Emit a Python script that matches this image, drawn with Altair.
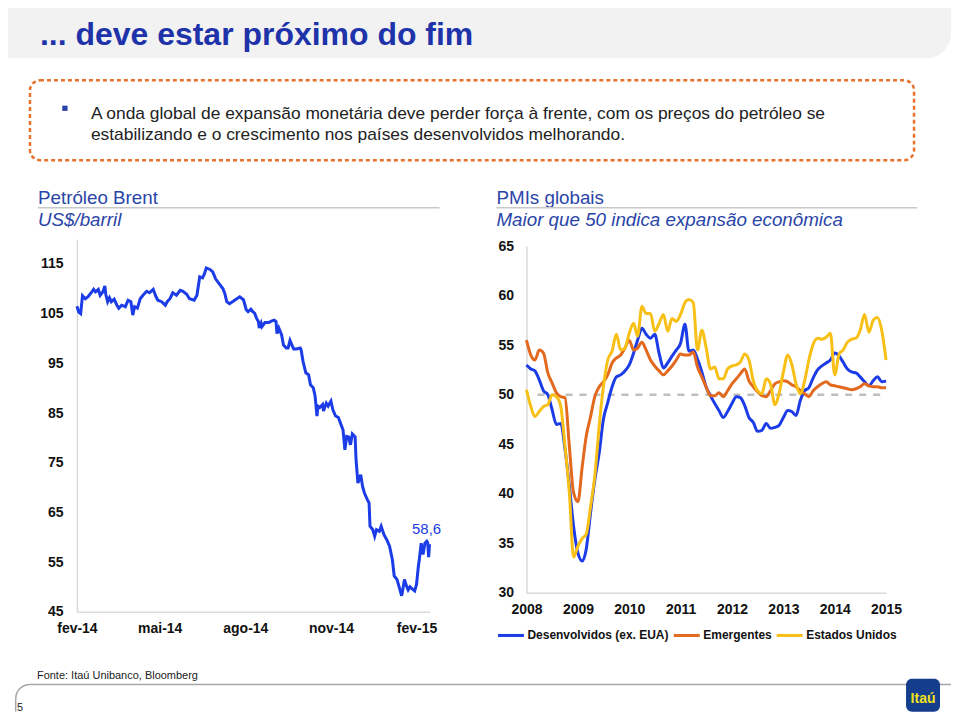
import altair as alt
import pandas as pd

FONT = "Liberation Sans"
BLUE = "#1b3ce6"
ORANGE = "#e2691e"
YELLOW = "#f8c016"
TITLE_BLUE = "#1e32aa"
SUB_BLUE = "#2a45a8"

# ---------------- Brent (days since 2014-02-01, US$/barril) ----------------
brent_day = [0, 2, 4, 6, 9, 12, 16, 18, 20, 23, 25, 28, 30, 31, 33, 35, 37, 40, 43, 45,
             48, 52, 55, 58, 60, 62, 65, 68, 71, 75, 78, 82, 85, 87, 91, 95, 97, 100, 103, 107,
             111, 114, 118, 121, 126, 129, 132, 135, 137, 139, 143, 146, 149, 153, 157, 159, 161, 164, 168, 171,
             175, 179, 182, 184, 187, 189, 191, 193, 195, 196, 198, 199, 202, 206, 209, 212, 214, 215, 217, 220,
             222, 225, 227, 229, 231, 233, 236, 240, 241, 243, 246, 249, 251, 254, 256, 258, 259, 261, 264, 265,
             268, 270, 273, 275, 278, 281,
             282, 286, 288, 290, 292, 294, 296, 299, 300, 302, 305, 307, 309, 312, 314, 315, 318, 320, 322, 325,
             327, 330, 333, 336, 339, 341, 344, 346, 349, 350, 352, 354, 356, 358, 361, 363, 365, 367, 368, 370,
             372, 374, 376, 377, 378, 379]
brent_value = [106.5, 105.3, 105.0, 108.6, 108.0, 108.4, 109.4, 109.9, 109.4, 109.9, 108.7, 109.4, 110.6, 108.9, 107.4, 108.2, 107.4, 107.9, 106.7, 106.1,
               106.7, 106.4, 107.7, 107.4, 104.7, 106.4, 106.1, 108.0, 108.7, 109.5, 109.2, 109.9, 108.4, 107.7, 107.4, 106.7, 107.4, 108.0, 109.2, 108.7,
               109.7, 109.5, 108.9, 108.0, 107.7, 108.7, 112.4, 112.2, 113.0, 114.2, 113.9, 113.4, 112.0, 111.0, 110.0, 109.0, 107.4, 107.0, 107.5, 107.9,
               108.4, 107.8, 105.8, 105.4, 105.9, 105.4, 105.1, 104.1, 103.4, 102.1, 103.1, 102.4, 103.2, 103.2, 103.5, 103.7, 103.4, 101.0, 102.1, 100.7,
               98.7, 98.1, 98.1, 99.6, 98.7, 97.9, 97.9, 98.1, 97.7, 95.4, 93.1, 92.7, 90.7, 90.1, 88.4, 84.4, 86.4, 86.1, 86.7, 85.4,
               87.0, 86.4, 87.4, 85.7, 84.4, 84.1,
               83.6, 81.6, 77.6, 80.3, 80.2, 78.6, 80.8, 80.2, 75.6, 70.9, 72.6, 70.2, 68.9, 67.6, 66.9, 62.2, 61.5, 60.2, 61.5, 61.2,
               62.2, 60.5, 59.5, 58.2, 55.5, 52.2, 51.5, 50.2, 48.2, 49.2, 51.5, 50.3, 49.4, 50.0, 49.5, 49.2, 50.5, 54.2, 55.5, 58.8,
               56.5, 58.8, 59.2, 58.9, 56.0, 58.6]
brent_ticks = ["2014-02-01", "2014-05-01", "2014-08-01", "2014-11-01", "2015-02-01"]
brent_yticks = [45, 55, 65, 75, 85, 95, 105, 115]
brent_last_label = "58,6"

# ---------------- PMIs (monthly, Jan-2008 .. Jan-2015) ----------------
pmi_desenvolvidos = [53.0, 52.6, 52.4, 51.5, 50.4, 50.0, 48.5, 47.0, 47.1, 44.5, 40.8, 36.7, 34.0, 33.2, 34.4, 38.1, 41.4, 44.1, 47.5, 49.2,
                     50.8, 51.8, 52.0, 52.4, 53.0, 54.2, 55.5, 56.7, 56.1, 55.7, 56.1, 54.2, 52.7, 53.2, 53.9, 54.5, 55.2, 57.1, 54.4, 54.5,
                     53.6, 52.3, 50.8, 49.9, 49.1, 48.4, 47.7, 48.3, 49.1, 49.8, 49.7, 48.9, 47.7, 47.2, 46.3, 46.4, 47.1, 46.6, 46.7, 46.9,
                     47.7, 48.4, 48.3, 47.9, 49.4, 50.4, 50.7, 51.7, 52.5, 52.9, 53.2, 53.5, 54.2, 53.9, 53.3, 52.6, 52.3, 52.2, 51.8, 51.3,
                     50.9, 51.4, 51.8, 51.3, 51.4]
pmi_emergentes = [55.5, 54.0, 53.5, 54.5, 54.2, 52.2, 51.2, 50.2, 49.8, 49.7, 44.8, 40.1, 39.2, 42.8, 45.8, 47.8, 49.8, 50.8, 51.3, 52.0,
                  53.2, 53.7, 54.0, 54.7, 55.5, 54.5, 54.7, 55.3, 54.5, 53.5, 52.9, 52.4, 52.0, 52.4, 52.9, 53.5, 54.1, 54.0, 54.0, 54.3,
                  52.8, 51.8, 50.8, 49.9, 49.9, 50.2, 49.8, 50.4, 51.1, 51.6, 52.1, 52.6, 51.4, 50.8, 50.3, 49.9, 49.8, 50.4, 51.1, 51.3,
                  51.4, 51.3, 51.0, 50.8, 50.4, 50.1, 49.8, 50.4, 50.8, 51.1, 51.3, 51.0, 50.9, 50.8, 50.7, 50.6, 50.5, 50.6, 50.8, 51.1,
                  50.9, 50.8, 50.8, 50.7, 50.7]
pmi_eua = [50.5, 48.8, 47.8, 48.3, 48.8, 49.0, 50.0, 49.8, 48.8, 44.8, 40.1, 33.6, 34.7, 35.5, 35.9, 38.7, 41.8, 46.8, 50.8, 53.5,
           54.4, 56.1, 54.5, 54.7, 56.2, 57.2, 55.9, 58.9, 58.2, 58.2, 56.4, 57.2, 58.1, 56.4, 57.7, 57.4, 58.1, 59.3, 59.6, 59.3,
           54.5, 56.5, 54.8, 52.6, 52.8, 51.6, 51.6, 52.6, 52.9, 53.0, 53.3, 54.1, 53.5, 51.4, 50.4, 50.1, 51.6, 51.1, 49.0, 50.1,
           52.3, 54.0, 53.1, 51.1, 50.1, 51.4, 53.5, 55.1, 55.7, 55.6, 55.8, 56.2, 52.0, 54.1, 54.5, 55.3, 55.6, 55.7, 56.5, 58.1,
           56.3, 57.5, 57.8, 56.5, 53.5]
pmi_series = ["Desenvolvidos (ex. EUA)", "Emergentes", "Estados Unidos"]
pmi_years = list(range(2008, 2016))
pmi_yticks = [30, 35, 40, 45, 50, 55, 60, 65]

# ---------------- data frames ----------------
brent_df = pd.DataFrame({
    "date": pd.Timestamp("2014-02-01") + pd.to_timedelta(brent_day, unit="D"),
    "value": brent_value,
})
brent_last = brent_df.tail(1).assign(label=brent_last_label)

months = pd.date_range("2008-01-01", periods=len(pmi_eua), freq="MS")
pmi_df = pd.concat([
    pd.DataFrame({"date": months, "value": vals, "serie": name})
    for name, vals in zip(pmi_series, [pmi_desenvolvidos, pmi_emergentes, pmi_eua])
])
ref50 = pd.DataFrame({"d1": [pd.Timestamp("2008-03-20")], "d2": [pd.Timestamp("2015-01-01")], "v": [50]})


def dt(s):
    t = pd.Timestamp(s)
    return alt.DateTime(year=t.year, month=t.month, date=t.day)


one = pd.DataFrame({"a": [0]})


def txt(s, x, y, size, color="#222222", weight="normal", style="normal", align="left"):
    return alt.Chart(one).mark_text(
        text=s, font=FONT, fontSize=size, color=color, fontWeight=weight,
        fontStyle=style, align=align, baseline="alphabetic"
    ).encode(x=alt.value(x), y=alt.value(y))


def hrule(x1, x2, y, color="#c8c8c8", width=1.5, dash=None):
    kw = dict(color=color, strokeWidth=width)
    if dash:
        kw["strokeDash"] = dash
    return alt.Chart(one).mark_rule(**kw).encode(x=alt.value(x1), x2=alt.value(x2), y=alt.value(y))


# ---------------- header ----------------
W = 944
band = alt.Chart(one).mark_rect(color="#f2f2f2", cornerRadiusBottomRight=48).encode(
    x=alt.value(0), x2=alt.value(W), y=alt.value(0), y2=alt.value(50))
box = alt.Chart(one).mark_rect(fillOpacity=0, stroke="#e8702a", strokeWidth=2.5,
                               strokeDash=[4, 3], cornerRadius=10).encode(
    x=alt.value(22), x2=alt.value(907), y=alt.value(72), y2=alt.value(152))
bullet = alt.Chart(one).mark_square(size=28, color="#2a45a8", opacity=1).encode(
    x=alt.value(57), y=alt.value(100))

header = alt.layer(
    band,
    txt("... deve estar próximo do fim", 32, 37, 32, TITLE_BLUE, "bold"),
    box,
    bullet,
    txt("A onda global de expansão monetária deve perder força à frente, com os preços do petróleo se", 83, 111, 17.4),
    txt("estabilizando e o crescimento nos países desenvolvidos melhorando.", 83, 132, 17.4),
    txt("Petróleo Brent", 30, 196, 18.8, SUB_BLUE),
    hrule(30, 432, 199.5),
    txt("US$/barril", 30, 218, 18.8, SUB_BLUE, style="italic"),
    txt("PMIs globais", 489, 196, 18.8, SUB_BLUE),
    hrule(489, 910, 199.5),
    txt("Maior que 50 indica expansão econômica", 489, 218, 18.8, SUB_BLUE, style="italic"),
).properties(width=W, height=231)

# ---------------- common axis style ----------------
ax = dict(labelFont=FONT, labelFontSize=14, labelFontWeight="bold", labelColor="#111111",
          ticks=False, grid=False, domainColor="#d9d9d9", domainWidth=1.5, title=None,
          labelFlush=False, labelOverlap=False)

# ---------------- Brent panel ----------------
bx = alt.X("date:T",
           scale=alt.Scale(domain=[dt("2014-02-01"), dt("2015-02-15")]),
           axis=alt.Axis(values=[dt(s) for s in brent_ticks], labelPadding=10,
                         labelExpr="['jan','fev','mar','abr','mai','jun','jul','ago','set','out','nov','dez'][month(datum.value)] + '-' + timeFormat(datum.value, '%y')",
                         **ax))
by = alt.Y("value:Q", scale=alt.Scale(domain=[45, 120], nice=False, zero=False),
           axis=alt.Axis(values=brent_yticks, labelPadding=14, **ax))

brent_line = alt.Chart(brent_df).mark_line(color=BLUE, strokeWidth=3).encode(x=bx, y=by)
brent_lbl = alt.Chart(brent_last).mark_text(color=BLUE, font=FONT, fontSize=15, dx=-3, dy=-15,
                                            align="center", baseline="middle").encode(x=bx, y=by, text="label:N")
left = alt.layer(brent_line, brent_lbl).properties(width=353, height=373)

# ---------------- PMI panel ----------------
px = alt.X("date:T",
           scale=alt.Scale(domain=[dt("2008-01-01"), dt("2015-01-01")]),
           axis=alt.Axis(values=[alt.DateTime(year=y, month=1, date=1) for y in pmi_years],
                         format="%Y", labelPadding=10, **ax))
py = alt.Y("value:Q", scale=alt.Scale(domain=[30, 65], nice=False, zero=False, range=[354, 7]),
           axis=alt.Axis(values=pmi_yticks, labelPadding=13, **ax))

ref_line = alt.Chart(ref50).mark_rule(color="#bfbfbf", strokeWidth=2.5, strokeDash=[7, 7]).encode(
    x=alt.X("d1:T", scale=alt.Scale(domain=[dt("2008-01-01"), dt("2015-01-01")])), x2="d2:T", y=alt.Y("v:Q"))
pmi_lines = alt.Chart(pmi_df).mark_line(strokeWidth=3, interpolate="monotone").encode(
    x=px, y=py,
    color=alt.Color("serie:N", sort=pmi_series,
                    scale=alt.Scale(domain=pmi_series, range=[BLUE, ORANGE, YELLOW]),
                    legend=alt.Legend(orient="none", legendX=489, legendY=613, direction="horizontal",
                                      title=None, symbolType="stroke", symbolSize=676, symbolStrokeWidth=3,
                                      labelFont=FONT, labelFontSize=12, labelFontWeight="bold",
                                      labelColor="#111111", labelOffset=2, columnPadding=-2)),
    order=alt.Order("serie:N"),
)
right = alt.layer(ref_line, pmi_lines).properties(width=360, height=354)


def spacer(w, h=10):
    return alt.Chart(one).mark_rect(opacity=0).encode(
        x=alt.value(0), x2=alt.value(w), y=alt.value(0), y2=alt.value(h)).properties(width=w, height=h)


row = alt.hconcat(spacer(31), left, spacer(56), right, spacing=0)

# ---------------- footer ----------------
FH = 76
arc = alt.Chart(one).mark_arc(theta=4.7124, theta2=6.2832, radius=15, radius2=13.5, color="#a6a6a6").encode(
    x=alt.value(22), y=alt.value(63))
vline = alt.Chart(one).mark_rule(color="#a6a6a6", strokeWidth=1.5).encode(
    x=alt.value(7.7), y=alt.value(63), y2=alt.value(FH))
logo = alt.Chart(one).mark_rect(color="#143d8c", cornerRadius=6).encode(
    x=alt.value(899), x2=alt.value(933), y=alt.value(43), y2=alt.value(FH))
footer = alt.layer(
    txt("Fonte: Itaú Unibanco, Bloomberg", 29, 43, 11),
    hrule(22, W, 48.8, "#a6a6a6", 1.5),
    arc, vline,
    txt("5", 9, 75, 11),
    logo,
    txt("Itaú", 916, 67, 14, "#f2e21a", "bold", align="center"),
).properties(width=W, height=FH)

chart = alt.vconcat(header, row, footer, spacing=0).properties(padding=0).configure(
    font=FONT).configure_view(strokeWidth=0, stroke="transparent")

chart.save("out.html", embed_options={"renderer": "svg", "actions": False})
